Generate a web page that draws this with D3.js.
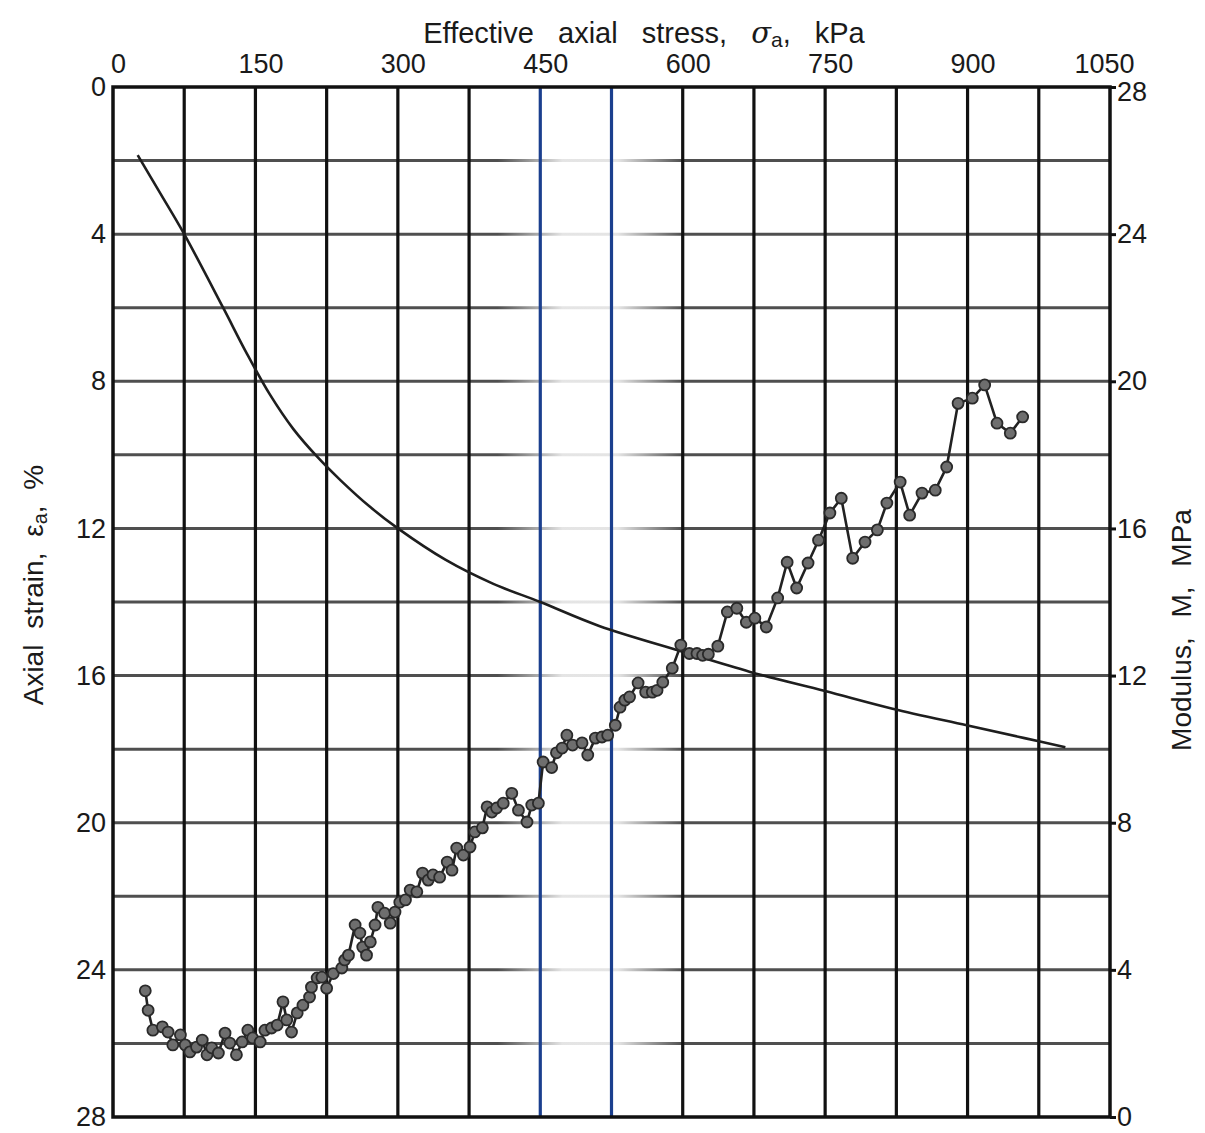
<!DOCTYPE html>
<html>
<head>
<meta charset="utf-8">
<script src="https://cdn.jsdelivr.net/npm/d3@7"></script>
<style>
  body { margin: 0; background: #fff; }
  text { font-family: "Liberation Sans", Arial, sans-serif; fill: #1a1a1a; }
  .axis .domain { display: none; }
</style>
</head>
<body>
<div id="chart"></div>
<script>
// Size
const WIDTH = 1205;
const HEIGHT = 1133;
const margin = { top: 87, right: 95, bottom: 16, left: 113 };
const innerW = WIDTH - margin.left - margin.right;
const innerH = HEIGHT - margin.top - margin.bottom;

// Axial strain curve (stress kPa, strain %)
const strainStress = [26, 50, 75, 116, 140, 165, 190, 215, 240, 270, 300, 350, 400, 450, 512, 600, 671, 750, 821, 899, 960, 1003];
const strainValues = [1.85, 2.9, 4.0, 6.0, 7.2, 8.35, 9.3, 10.05, 10.7, 11.4, 12.0, 12.85, 13.5, 14.0, 14.65, 15.35, 15.9, 16.42, 16.9, 17.35, 17.7, 17.95];

// Modulus points (stress kPa, modulus MPa)
const modStress = [34, 37, 42, 52, 58, 63, 71, 76, 81, 88, 94, 99, 104, 111, 118, 123, 130, 136, 142, 147,
  155, 160, 167, 173, 179, 183, 188, 194, 200, 207, 209, 215, 220, 225, 232, 241, 244, 248, 255, 260,
  263, 267, 271, 276, 279, 286, 292, 297, 302, 308, 313, 320, 326, 332, 337, 344, 352, 357, 362, 369,
  376, 381, 389, 394, 399, 404, 411, 420, 427, 436, 441, 448, 453, 462, 467, 473, 478, 484, 494, 500,
  508, 515, 521, 529, 534, 539, 544, 553, 561, 568, 573, 579, 589, 598, 607, 615, 621, 627, 637, 647,
  657, 667, 676, 688, 700, 710, 720, 732, 743, 755, 767, 779, 792, 805, 815, 829, 839, 852, 866, 878,
  890, 905, 918, 931, 945, 958];
const modValues = [3.43, 2.9, 2.36, 2.45, 2.31, 1.96, 2.23, 1.96, 1.77, 1.9, 2.09, 1.69, 1.88, 1.74, 2.28, 2.01, 1.69, 2.04, 2.36, 2.15,
  2.04, 2.36, 2.42, 2.5, 3.13, 2.64, 2.31, 2.83, 3.04, 3.26, 3.53, 3.78, 3.8, 3.5, 3.9, 4.05, 4.27, 4.4, 5.22, 5.0,
  4.62, 4.4, 4.76, 5.22, 5.7, 5.54, 5.27, 5.57, 5.84, 5.9, 6.17, 6.12, 6.63, 6.44, 6.58, 6.52, 6.93, 6.71, 7.31, 7.12,
  7.34, 7.75, 7.86, 8.43, 8.29, 8.4, 8.53, 8.8, 8.34, 8.02, 8.48, 8.53, 9.65, 9.5, 9.9, 10.03, 10.38, 10.11, 10.17, 9.84,
  10.3, 10.33, 10.38, 10.65, 11.14, 11.33, 11.42, 11.8, 11.55, 11.55, 11.6, 11.82, 12.2, 12.83, 12.6, 12.6, 12.55, 12.58, 12.8, 13.73,
  13.83, 13.45, 13.56, 13.32, 14.11, 15.08, 14.38, 15.06, 15.68, 16.42, 16.82, 15.19, 15.63, 15.96, 16.69, 17.26, 16.36, 16.96, 17.04, 17.67,
  19.4, 19.54, 19.9, 18.86, 18.59, 19.03];

// Ticks
const stressTicks = [0, 150, 300, 450, 600, 750, 900, 1050];
const strainTicks = [0, 4, 8, 12, 16, 20, 24, 28];
const modTicks = [0, 4, 8, 12, 16, 20, 24, 28];
const blueLines = [450, 525];

const svg = d3
  .select("#chart")
  .append("svg")
  .attr("width", WIDTH)
  .attr("height", HEIGHT);

const g = svg
  .append("g")
  .attr("transform", "translate(" + margin.left + "," + margin.top + ")");

// Scales
const x = d3.scaleLinear().domain([0, 1050]).range([0, innerW]);
const yL = d3.scaleLinear().domain([0, 28]).range([0, innerH]);
const yR = d3.scaleLinear().domain([0, 28]).range([innerH, 0]);

// Horizontal grid
g.append("g")
  .selectAll("line")
  .data(d3.range(2, 28, 2))
  .enter()
  .append("line")
  .attr("x1", 0)
  .attr("x2", innerW)
  .attr("y1", (d) => yL(d))
  .attr("y2", (d) => yL(d))
  .attr("stroke", "#4f4f4f")
  .attr("stroke-width", 3);

// Faded band around the blue lines
const fade = svg.append("defs").append("linearGradient").attr("id", "fade");
fade.append("stop").attr("offset", "0%").attr("stop-color", "#fff").attr("stop-opacity", 0);
fade.append("stop").attr("offset", "35%").attr("stop-color", "#fff").attr("stop-opacity", 0.85);
fade.append("stop").attr("offset", "65%").attr("stop-color", "#fff").attr("stop-opacity", 0.85);
fade.append("stop").attr("offset", "100%").attr("stop-color", "#fff").attr("stop-opacity", 0);
g.append("rect")
  .attr("x", x(405))
  .attr("y", 2)
  .attr("width", x(600) - x(405))
  .attr("height", innerH - 4)
  .attr("fill", "url(#fade)");

// Vertical grid
g.append("g")
  .selectAll("line")
  .data(d3.range(75, 1050, 75))
  .enter()
  .append("line")
  .attr("x1", (d) => x(d))
  .attr("x2", (d) => x(d))
  .attr("y1", 0)
  .attr("y2", innerH)
  .attr("stroke", (d) => (blueLines.includes(d) ? "#1b3f8e" : "#111"))
  .attr("stroke-width", 3.2);

// Frame
g.append("rect")
  .attr("width", innerW)
  .attr("height", innerH)
  .attr("fill", "none")
  .attr("stroke", "#111")
  .attr("stroke-width", 3.5);

// Axes
g.append("g")
  .attr("class", "axis")
  .call(
    d3
      .axisTop(x)
      .tickValues(stressTicks)
      .tickFormat(d3.format("d"))
      .tickSize(0)
      .tickPadding(14)
  )
  .selectAll("text")
  .attr("dx", (d) => (d === 1050 ? -6 : 5));

g.append("g")
  .attr("class", "axis")
  .call(d3.axisLeft(yL).tickValues(strainTicks).tickSize(0).tickPadding(7));

const rightAxis = g
  .append("g")
  .attr("class", "axis")
  .attr("transform", "translate(" + innerW + ",0)")
  .call(d3.axisRight(yR).tickValues(modTicks).tickSize(6).tickPadding(1));

rightAxis.selectAll(".tick line").attr("stroke", "#111").attr("stroke-width", 3);
rightAxis.selectAll("text").attr("dy", (d) => (d === 28 ? "0.5em" : "0.32em"));

svg.selectAll(".axis text")
  .style("font-size", "27px")
  .attr("fill", "#1a1a1a");

// Axis titles
const topTitle = svg
  .append("text")
  .attr("x", 644)
  .attr("y", 43)
  .attr("text-anchor", "middle")
  .style("font-size", "29px")
  .style("word-spacing", "16px");
topTitle.append("tspan").text("Effective axial stress, ");
topTitle.append("tspan").style("font-style", "italic").style("font-family", "DejaVu Serif").text("σ");
topTitle.append("tspan").attr("dy", 4).style("font-size", "21px").text("a");
topTitle.append("tspan").attr("dy", -4).text(", kPa");

const leftTitle = svg
  .append("text")
  .attr("transform", "translate(43,585) rotate(-90)")
  .attr("text-anchor", "middle")
  .style("font-size", "28px")
  .style("word-spacing", "8px");
leftTitle.append("tspan").text("Axial strain, ε");
leftTitle.append("tspan").attr("dy", 4).style("font-size", "20px").text("a");
leftTitle.append("tspan").attr("dy", -4).text(", %");

svg.append("text")
  .attr("transform", "translate(1191,630) rotate(-90)")
  .attr("text-anchor", "middle")
  .style("font-size", "28px")
  .style("word-spacing", "12px")
  .text("Modulus, M, MPa");

// Axial strain curve
const strainData = strainStress.map((s, i) => ({ s: s, v: strainValues[i] }));
g.append("path")
  .datum(strainData)
  .attr("fill", "none")
  .attr("stroke", "#1e1e1e")
  .attr("stroke-width", 2.6)
  .attr("d", d3.line().x((d) => x(d.s)).y((d) => yL(d.v)).curve(d3.curveCatmullRom));

// Modulus line with markers
const modData = modStress.map((s, i) => ({ s: s, v: modValues[i] }));
g.append("path")
  .datum(modData)
  .attr("fill", "none")
  .attr("stroke", "#222")
  .attr("stroke-width", 2.6)
  .attr("d", d3.line().x((d) => x(d.s)).y((d) => yR(d.v)));

g.append("g")
  .selectAll("circle")
  .data(modData)
  .enter()
  .append("circle")
  .attr("cx", (d) => x(d.s))
  .attr("cy", (d) => yR(d.v))
  .attr("r", 5.5)
  .attr("fill", "#6e6e6e")
  .attr("stroke", "#2a2a2a")
  .attr("stroke-width", 1.8);
</script>
</body>
</html>
